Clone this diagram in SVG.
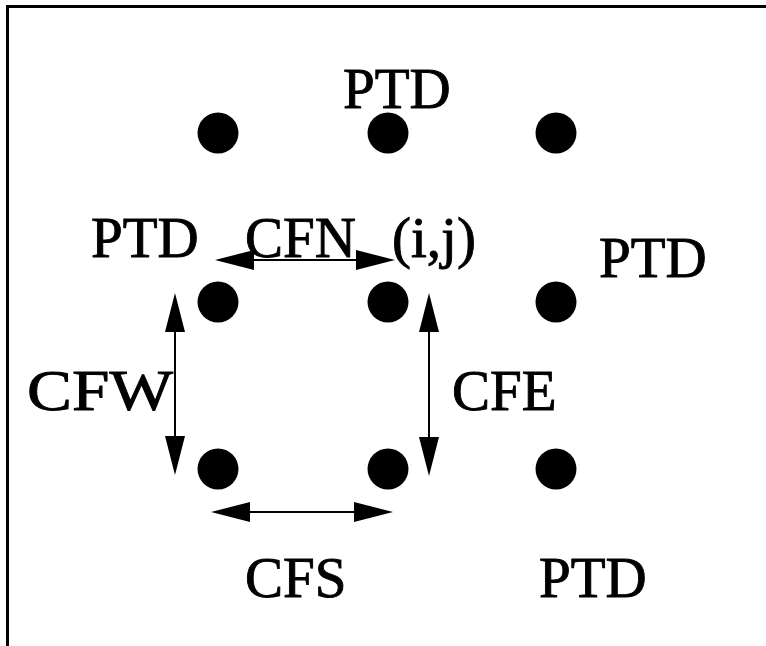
<svg xmlns="http://www.w3.org/2000/svg" width="766" height="646" viewBox="0 0 766 646">
  <style>
    .lbl { font-family: "Liberation Serif", "Times New Roman", serif; font-size: 57px; fill: #000; stroke: #000; stroke-width: 0.9; }
    .dot { fill: #000; }
    .frame { stroke: #000; stroke-width: 3; fill: none; }
    .conn { stroke: #000; stroke-width: 2; fill: none; marker-start: url(#head); marker-end: url(#head); }
  </style>
  <defs>
    <marker id="head" viewBox="0 -10 39 20" refX="2" refY="0" markerWidth="39" markerHeight="20" markerUnits="userSpaceOnUse" orient="auto-start-reverse">
      <path d="M0,-10 L39,0 L0,10 Z" fill="#000"/>
    </marker>
  </defs>

  <rect width="766" height="646" fill="#fff"/>

  <!-- frame edges -->
  <path class="frame" d="M7.5,646 L7.5,6.5 L766,6.5"/>

  <!-- grid points -->
  <g id="p00"><circle class="dot" cx="218" cy="133" r="20.5"/></g>
  <g id="p01"><circle class="dot" cx="388" cy="133" r="20.5"/></g>
  <g id="p02"><circle class="dot" cx="556" cy="133" r="20.5"/></g>
  <g id="p10"><circle class="dot" cx="218" cy="302" r="20.5"/></g>
  <g id="p11"><circle class="dot" cx="388" cy="302" r="20.5"/></g>
  <g id="p12"><circle class="dot" cx="556" cy="302" r="20.5"/></g>
  <g id="p20"><circle class="dot" cx="218" cy="469" r="20.5"/></g>
  <g id="p21"><circle class="dot" cx="388" cy="469" r="20.5"/></g>
  <g id="p22"><circle class="dot" cx="556" cy="469" r="20.5"/></g>

  <!-- flux connectors -->
  <g id="connectors">
    <line class="conn" x1="252" y1="260" x2="358" y2="260"/>
    <line class="conn" x1="175" y1="330" x2="175" y2="438"/>
    <line class="conn" x1="429" y1="330" x2="429" y2="439"/>
    <line class="conn" x1="248" y1="512" x2="356" y2="512"/>
  </g>

  <!-- labels -->
  <g id="ptd-top"><text class="lbl" x="343" y="108">PTD</text></g>
  <g id="ptd-left"><text class="lbl" x="91" y="257">PTD</text></g>
  <g id="cfn"><text class="lbl" x="245" y="257">CFN</text></g>
  <g id="ij"><text class="lbl" x="392" y="257">(i,j)</text></g>
  <g id="ptd-right"><text class="lbl" x="599" y="277">PTD</text></g>
  <g id="cfw"><text class="lbl" x="27" y="410" textLength="146" lengthAdjust="spacingAndGlyphs">CFW</text></g>
  <g id="cfe"><text class="lbl" x="452" y="410">CFE</text></g>
  <g id="cfs"><text class="lbl" x="245" y="597">CFS</text></g>
  <g id="ptd-bottom"><text class="lbl" x="539" y="597">PTD</text></g>
</svg>
